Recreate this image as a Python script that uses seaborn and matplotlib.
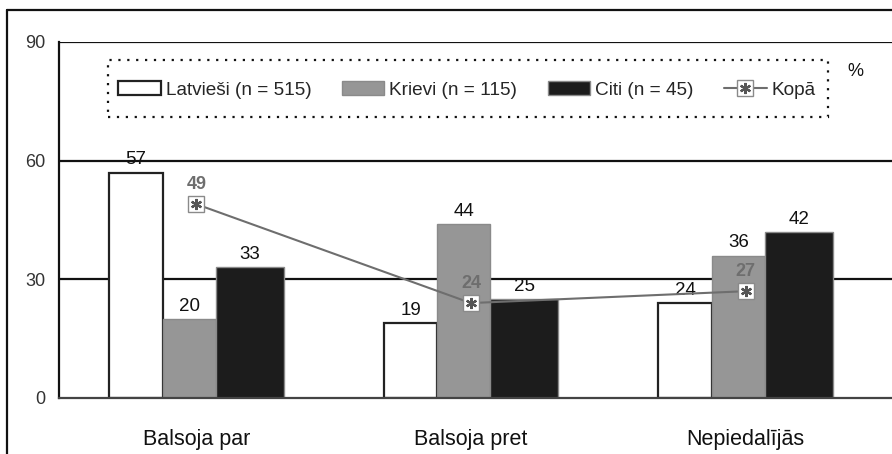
import matplotlib
matplotlib.use("Agg")
import matplotlib.pyplot as plt
from matplotlib.lines import Line2D
from matplotlib.patches import Patch, Rectangle
import seaborn as sns
import pandas as pd

categories = ["Balsoja par", "Balsoja pret", "Nepiedalījās"]
groups = ["Latvieši (n = 515)", "Krievi (n = 115)", "Citi (n = 45)"]
latviesi = [57, 19, 24]
krievi = [20, 44, 36]
citi = [33, 25, 42]
kopa = [49, 24, 27]
kopa_label = "Kopā"
yticks = [0, 30, 60, 90]

colors = ["#ffffff", "#969696", "#1c1c1c"]
edges = ["#222222", "#8a8a8a", "#8a8a8a"]
line_color = "#6e6e6e"

sns.set_theme(style="white")
plt.rcParams["font.family"] = ["Liberation Sans", "DejaVu Sans"]

df = pd.DataFrame({
    "cat": categories * 3,
    "grp": [groups[0]] * 3 + [groups[1]] * 3 + [groups[2]] * 3,
    "val": latviesi + krievi + citi,
})

fig = plt.figure(figsize=(8.92, 4.54), dpi=100)
ax = fig.add_axes([59 / 892, 1 - 398 / 454, 1 - 59 / 892, (398 - 42) / 454])

sns.barplot(data=df, x="cat", y="val", hue="grp", hue_order=groups,
            palette=colors, width=0.64, ax=ax, legend=False, zorder=3)

# offsets/widths of the three bars within a group (bar style)
offs = [(-0.318, 0.196), (-0.1225, 0.1935), (0.071, 0.247)]
for hi, cont in enumerate(ax.containers):
    for ci, p in enumerate(cont.patches):
        left, w = offs[hi]
        p.set_x(ci + left)
        p.set_width(w)
        p.set_facecolor(colors[hi])
        p.set_edgecolor(edges[hi])
        p.set_linewidth(1.6 if hi == 0 else 1.0)
    ax.bar_label(cont, labels=[f"{v:g}" for v in cont.datavalues], padding=3,
                 fontsize=13.5, color="#111111")

xs = list(range(len(categories)))
sns.lineplot(x=xs, y=kopa, ax=ax, color=line_color, lw=1.5, marker="s",
             markersize=12, markerfacecolor="white", markeredgecolor="#8a8a8a",
             markeredgewidth=1.0, zorder=5)
ax.plot(xs, kopa, ls="none", marker=(6, 2, 0), markersize=8,
        markeredgecolor="#555555", markeredgewidth=1.6, zorder=6)
for x, v in zip(xs, kopa):
    ax.annotate(f"{v}", (x, v), xytext=(0, 8), textcoords="offset points",
                ha="center", va="bottom", fontsize=13, fontweight="bold",
                color=line_color, zorder=7)

ax.set_xlim(-0.5, 2.533)
ax.set_ylim(0, 90)
ax.set_yticks(yticks)
ax.set_yticklabels([str(t) for t in yticks])
ax.set_xlabel("")
ax.set_ylabel("")
ax.tick_params(axis="y", length=0, pad=10, labelsize=13, labelcolor="#333333")
ax.tick_params(axis="x", length=0, pad=22, labelsize=15.5, labelcolor="#111111")
for t in yticks[1:]:
    ax.axhline(t, color="#111111", lw=1.6, zorder=1)
for s in ["top", "right"]:
    ax.spines[s].set_visible(False)
ax.spines["left"].set_color("#111111")
ax.spines["left"].set_linewidth(1.6)
ax.spines["bottom"].set_color("#444444")
ax.spines["bottom"].set_linewidth(1.6)
ax.spines["left"].set_zorder(4)
ax.spines["bottom"].set_zorder(4)

# legend box (dotted) and legend entries
box = Rectangle((0.0588, 0.789), 0.9232 - 0.0588, 0.949 - 0.789,
                transform=ax.transAxes, facecolor="white", edgecolor="#111111",
                lw=1.6, ls=(0, (1, 3)), zorder=8)
ax.add_patch(box)
handles = [Patch(facecolor=colors[i], edgecolor=edges[i], lw=1.6 if i == 0 else 1.0)
           for i in range(3)]
kh = (Line2D([], [], color=line_color, lw=1.5, marker="s", markersize=12,
             markerfacecolor="white", markeredgecolor="#8a8a8a"),
      Line2D([], [], ls="none", marker=(6, 2, 0), markersize=8,
             markeredgecolor="#555555", markeredgewidth=1.6))
leg = ax.legend(handles + [kh], groups + [kopa_label], ncol=4,
                loc="center left", bbox_to_anchor=(0.0708, 0.866),
                borderaxespad=0, borderpad=0, fontsize=13.7, handlelength=2.25,
                handleheight=0.75, handletextpad=0.25, columnspacing=1.6,
                frameon=False)
leg.set_zorder(9)

fig.text(855 / 892, 1 - 71 / 454, "%", fontsize=13, color="#111111",
         ha="center", va="center")

# outer frame (left and top edges visible)
fig.add_artist(Line2D([7 / 892, 7 / 892], [0, 1 - 10 / 454], transform=fig.transFigure,
                      color="#111111", lw=1.6))
fig.add_artist(Line2D([7 / 892, 1], [1 - 10 / 454, 1 - 10 / 454], transform=fig.transFigure,
                      color="#111111", lw=1.6))

fig.savefig("out.png", dpi=100)
